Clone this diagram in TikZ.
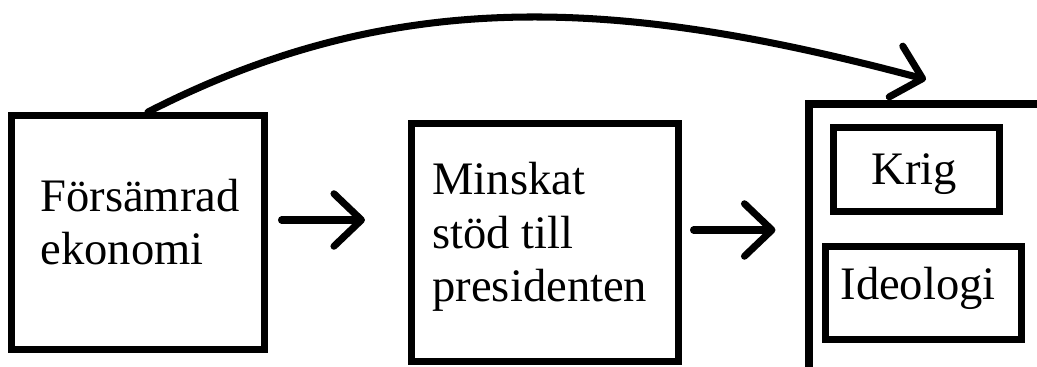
\documentclass[tikz,border=0pt]{standalone}
\usepackage{fontspec}
\setmainfont{Liberation Serif}
\usetikzlibrary{arrows.meta,calc}

\begin{document}
\begin{tikzpicture}[line width=4pt,line cap=round,
  >={Straight Barb[length=5.5mm,width=10.5mm,round]},
  box/.style={draw,rectangle,inner sep=0pt},
  lbl/.style={anchor=base west,inner sep=0pt,align=left,font=\fontsize{26.5}{30.5}\selectfont}]
\useasboundingbox (0,0) rectangle (20.74,7.34);
\clip (0,0) rectangle (20.74,7.34);

% Boxes
\node[box,minimum width=5.06cm,minimum height=4.68cm] (econ) at (2.76,2.69) {};
\node[box,minimum width=5.34cm,minimum height=4.76cm] (stod) at (10.90,2.49) {};
\node[box,minimum width=5.02cm,minimum height=5.72cm] (causes) at (18.69,2.40) {};
\node[box,minimum width=3.32cm,minimum height=1.68cm] (krig) at (18.33,3.95) {};
\node[box,minimum width=3.92cm,minimum height=1.86cm] (ideo) at (18.47,1.48) {};

% Texts (base = last line)
\node[lbl] (econtxt) at (0.74,2.04) {Försämrad\\ekonomi};
\node[lbl] (stodtxt) at (8.58,1.30) {Minskat\\stöd till\\presidenten};
\node[lbl] (krigtxt) at (17.36,3.64) {Krig};
\node[lbl] (ideotxt) at (16.74,1.34) {Ideologi};

% Arrows
\coordinate (a1) at ([yshift=0.25cm]econ.east);
\draw[->,shorten <=0.27cm,shorten >=0.86cm] (a1) -- (a1 -| stod.west);
\coordinate (a2) at ([yshift=0.25cm]stod.east);
\draw[->,shorten <=0.23cm,shorten >=0.6cm] (a2) -- (a2 -| causes.west);
\draw[->] ([xshift=0.2cm]econ.north) .. controls +(5.04,2.58) and +(-6.0,1.6) .. ([xshift=-0.17cm,yshift=0.42cm]causes.north);

\end{tikzpicture}
\end{document}
